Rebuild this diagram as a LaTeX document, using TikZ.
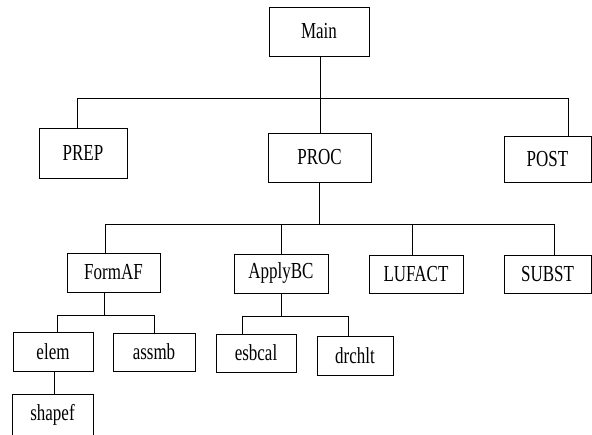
\documentclass[tikz,border=0pt]{standalone}
\usepackage{fontspec}
\setmainfont{Liberation Serif}
\newcommand{\tx}[1]{\scalebox{1}[1.35]{#1}}

\begin{document}
\begin{tikzpicture}[x=0.03cm, y=-0.03cm, line width=0.8pt,
    blk/.style={draw, rectangle, inner sep=0pt, font=\fontsize{14.5}{16}\selectfont}]
            \useasboundingbox (0,0) rectangle (592,434);
            % level 0 and 1
            \node[blk, minimum width=100*0.03cm, minimum height=49*0.03cm] (main) at (319,31.5) {\tx{Main}};
            \node[blk, minimum width=88*0.03cm, minimum height=50*0.03cm] (prep) at (83,153) {\tx{PREP}};
            \node[blk, minimum width=103*0.03cm, minimum height=49*0.03cm] (proc) at (319.5,157.5) {\tx{PROC}};
            \node[blk, minimum width=87*0.03cm, minimum height=46*0.03cm] (post) at (547.5,159) {\tx{POST}};
            % level 2
            \node[blk, minimum width=93*0.03cm, minimum height=39*0.03cm] (formaf) at (113.5,272.5) {\tx{FormAF}};
            \node[blk, minimum width=94*0.03cm, minimum height=39*0.03cm] (applybc) at (281,273.5) {\tx{ApplyBC}};
            \node[blk, minimum width=94*0.03cm, minimum height=38*0.03cm] (lufact) at (416,274) {\tx{LUFACT}};
            \node[blk, minimum width=87*0.03cm, minimum height=38*0.03cm] (subst) at (547.5,274) {\tx{SUBST}};
            % level 3
            \node[blk, minimum width=80*0.03cm, minimum height=39*0.03cm] (elem) at (53,351.5) {\tx{elem}};
            \node[blk, minimum width=82*0.03cm, minimum height=38*0.03cm] (assmb) at (154,352) {\tx{assmb}};
            \node[blk, minimum width=80*0.03cm, minimum height=38*0.03cm] (esbcal) at (256,353) {\tx{esbcal}};
            \node[blk, minimum width=76*0.03cm, minimum height=39*0.03cm] (drchlt) at (355,355.5) {\tx{drchlt}};
            \node[blk, minimum width=81*0.03cm, minimum height=42*0.03cm] (shapef) at (52.5,415) {\tx{shapef}};

            % bus points
            \coordinate (b1) at (77,98);
            \coordinate (b2) at (568,98);
            \coordinate (c1) at (105,224);
            \coordinate (c4) at (554,224);
            \coordinate (d1) at (57,315);
            \coordinate (d2) at (154,315);
            \coordinate (e1) at (242,316);
            \coordinate (e2) at (348,316);

            \draw (main.south -| 320,0) -- (320,0 |- proc.north);
            \draw (b1 |- prep.north) -- (b1) -- (b2) -- (b2 |- post.north);
            \draw (proc.south -| 319,0) -- (319,0 |- c1);
            \draw (c1 |- formaf.north) -- (c1) -- (c4) -- (c4 |- subst.north);
            \foreach \n/\x in {applybc/281, lufact/412}
            {
                \draw (\x,224) -- (\x,224 |- \n.north);
            }
            \draw (formaf.south -| 104,0) -- (104,0 |- d1);
            \draw (d1 |- elem.north) -- (d1) -- (d2) -- (d2 |- assmb.north);
            \draw (applybc.south) -- (applybc.south |- e1);
            \draw (e1 |- esbcal.north) -- (e1) -- (e2) -- (e2 |- drchlt.north);
            \draw (elem.south -| 54,0) -- (54,0 |- shapef.north);
        \end{tikzpicture}
\end{document}
